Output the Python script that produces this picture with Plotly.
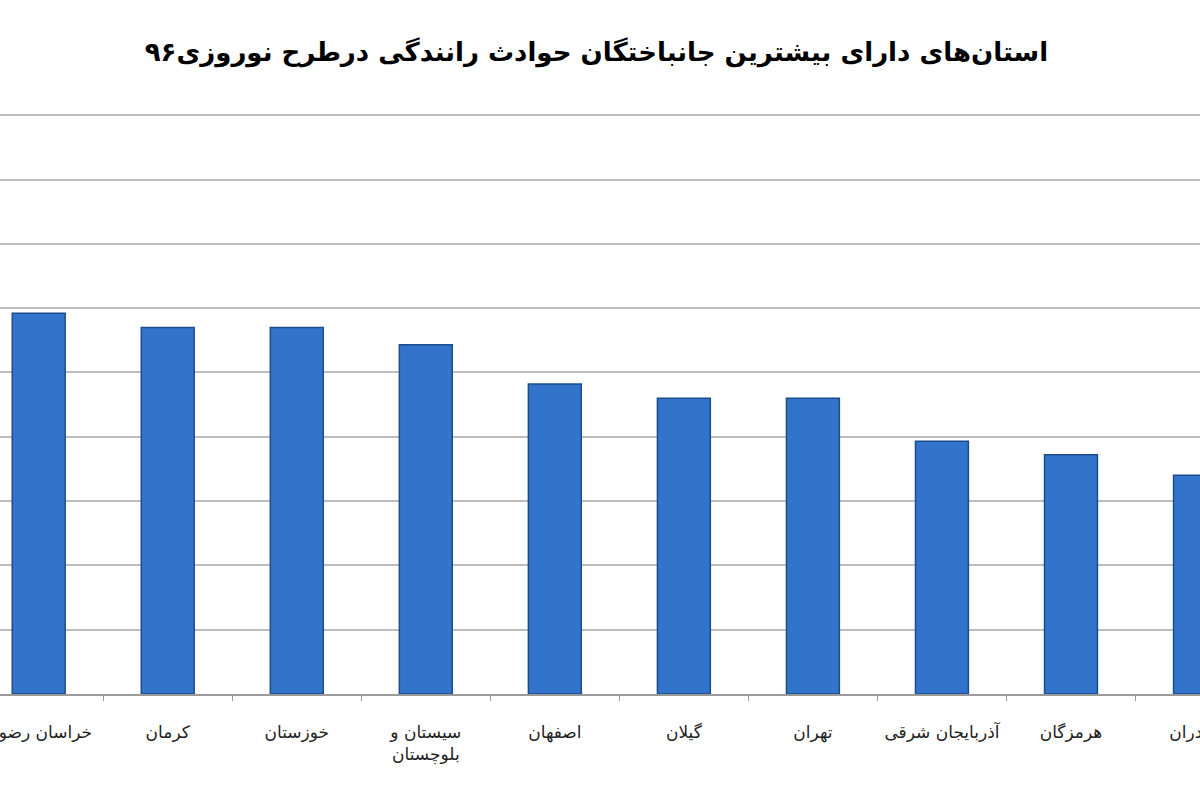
import plotly.graph_objects as go

# provinces, left to right on screen
provinces = [
    "خراسان رضوی",
    "کرمان",
    "خوزستان",
    "سیستان و<br>بلوچستان",
    "اصفهان",
    "گیلان",
    "تهران",
    "آذربایجان شرقی",
    "هرمزگان",
    "مازندران",
]
injured = [592, 570, 570, 543, 482, 460, 460, 393, 372, 340]

title_text = "استان‌های دارای بیشترین جانباختگان حوادث رانندگی درطرح نوروزی۹۶"

fig = go.Figure()
fig.add_trace(go.Bar(
    x=provinces,
    y=injured,
    width=0.41,
    marker=dict(color="#3274CB", line=dict(color="#1D4C8C", width=1.5)),
    hoverinfo="x+y",
))

fig.update_layout(
    width=1200,
    height=800,
    paper_bgcolor="white",
    plot_bgcolor="white",
    showlegend=False,
    margin=dict(l=0, r=0, t=112, b=106, autoexpand=False),
    title=dict(
        text="<b>" + title_text + "</b>",
        x=0.497,
        xanchor="center",
        y=1 - 52 / 800,
        yanchor="middle",
        font=dict(family="DejaVu Sans", size=26, color="black"),
    ),
    font=dict(family="DejaVu Sans", size=17, color="#222222"),
)

fig.update_xaxes(
    type="category",
    range=[-0.30, 9.0],
    automargin=False,
    showline=True,
    linecolor="#9A9A9A",
    linewidth=1.5,
    ticks="outside",
    tickson="boundaries",
    ticklen=5,
    tickcolor="#9A9A9A",
    ticklabelstandoff=22,
    showgrid=False,
    tickfont=dict(family="DejaVu Sans", size=17, color="#222222"),
)
fig.update_yaxes(
    range=[0, 905],
    dtick=100,
    automargin=False,
    showgrid=True,
    gridcolor="#BDBDBD",
    gridwidth=1.5,
    showticklabels=False,
    zeroline=False,
    showline=False,
)

fig.write_html("out.html",
               config={"displayModeBar": False},
               post_script="document.body.style.margin='0';")
